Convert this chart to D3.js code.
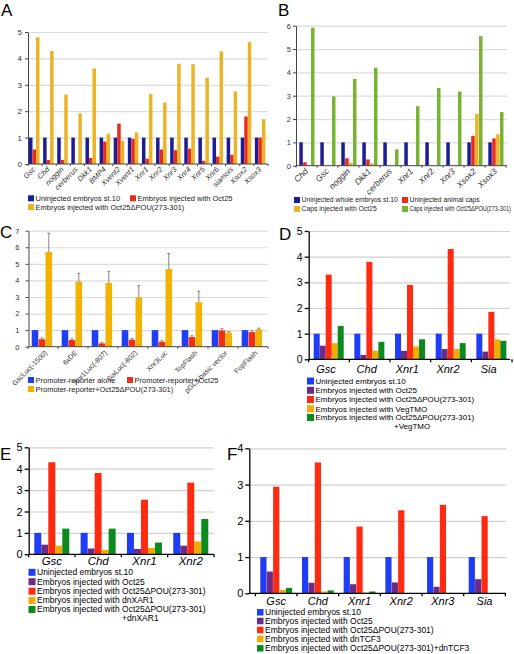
<!DOCTYPE html>
<html><head><meta charset="utf-8">
<script src="https://cdn.jsdelivr.net/npm/d3@7"></script>
<style>body{margin:0;background:#fff} svg{display:block;font-family:"Liberation Sans",Arial,sans-serif}</style>
</head><body><svg id="c" width="514" height="654"></svg>
<script>
// ---------- DATA ----------
// Panel A
const catsA = ["Gsc","Chd","noggin","cerberus","Dkk1","BMP4","Xvent2","Xvent1","Xnr1","Xnr2","Xnr3","Xnr4","Xnr5","Xnr6","siamois","Xsox2","Xsox3"];
const a_uninj = [1,1,1,1,1,1,1,1,1,1,1,1,1,1,1,1,1];
const a_oct25 = [0.55,0.15,0.15,0,0.23,0.85,1.53,0.95,0.2,0.55,0.52,0.58,0.12,0.28,0.35,1.8,1.0];
const a_dpou  = [4.8,4.28,2.63,1.92,3.62,1.15,0.88,1.2,2.65,2.33,3.8,3.78,3.27,4.27,2.75,4.62,1.7];
const legA = ["Uninjected embryos st.10","Embryos injected with Oct25","Embryos injected with Oct25\u0394POU(273-301)"];
// Panel B
const catsB = ["Chd","Gsc","noggin","Dkk1","cerberus","Xnr1","Xnr2","Xnr3","Xsox2","Xsox3"];
const b_whole = [1,1,1,1,1,1,1,1,1,1];
const b_caps  = [0.15,0,0.32,0.27,0,0,0,0,1.28,1.17];
const b_oct25 = [0,0,0.13,0.1,0,0,0,0.04,2.22,1.35];
const b_dpou  = [5.92,2.97,3.72,4.2,0.7,2.55,3.33,3.18,5.55,2.3];
const legB = ["Uninjected whole embryos st.10","Uninjected animal caps","Caps injected with Oct25","Caps injected with Oct25\u0394POU(273-301)"];
// Panel C
const catsC = ["GscLuc(-1500)","6xDE","Xnr1Luc(-807)","SiaLuc(-802)","Xnr3Luc","TopFlash","pGL3-basic vector","FopFlash"];
const c_alone = [1,1,1,1,1,1,1,1];
const c_oct25 = [0.45,0.4,0.2,0.42,0.3,0.58,0.98,0.88];
const c_dpou  = [5.72,3.93,3.85,2.97,4.68,2.68,0.85,1.05];
const c_oct25Err = [0.08,0.07,0.06,0.07,0.06,0.08,0.1,0.1];
const c_dpouErr  = [1.13,0.5,0.7,0.71,0.94,0.67,0.07,0.07];
const legC = ["Promoter-reporter alone","Promoter-reporter+Oct25","Promoter-reporter+Oct25\u0394POU(273-301)"];
// Panel D
const catsD = ["Gsc","Chd","Xnr1","Xnr2","Sia"];
const d_uninj = [1,1,1,1,1];
const d_oct25 = [0.53,0.17,0.33,0.4,0.3];
const d_dpou  = [3.3,3.8,2.9,4.3,1.85];
const d_veg   = [0.63,0.33,0.5,0.4,0.78];
const d_dpouVeg = [1.3,0.68,0.78,0.63,0.72];
const legD = ["Uninjected embryos st.10","Embryos injected with Oct25","Embryos injected with Oct25\u0394POU(273-301)","Embryos injected with VegTMO","Embryos injected with Oct25\u0394POU(273-301)"];
const legDcont = "+VegTMO";
// Panel E
const catsE = ["Gsc","Chd","Xnr1","Xnr2"];
const e_uninj = [1,1,1,1];
const e_oct25 = [0.45,0.27,0.25,0.4];
const e_dpou  = [4.3,3.8,2.55,3.35];
const e_dnxar = [0.4,0.2,0.3,0.6];
const e_dpouX = [1.2,1.2,0.55,1.65];
const legE = ["Uninjected embryos st.10","Embryos injected with Oct25","Embryos injected with Oct25\u0394POU(273-301)","Embryos injected with dnXAR1","Embryos injected with Oct25\u0394POU(273-301)"];
const legEcont = "+dnXAR1";
// Panel F
const catsF = ["Gsc","Chd","Xnr1","Xnr2","Xnr3","Sia"];
const f_uninj = [1,1,1,1,1,1];
const f_oct25 = [0.6,0.29,0.25,0.3,0.18,0.39];
const f_dpou  = [2.94,3.61,1.84,2.29,2.44,2.13];
const f_dntcf = [0.09,0.05,0.02,0,0,0];
const f_dpouT = [0.15,0.08,0.05,0,0,0];
const legF = ["Uninjected embryos st.10","Embryos injected with Oct25","Embryos injected with Oct25\u0394POU(273-301)","Embryos injected with dnTCF3","Embryos injected with Oct25\u0394POU(273-301)+dnTCF3"];

// ---------- DRAW ----------
const svg = d3.select("#c");
const FONT = '"Liberation Sans",Arial,sans-serif';

function drawPanel(o){
  const g = svg.append("g");
  const y = d3.scaleLinear().domain([0,o.yMax]).range([o.y0,o.yTop]);
  const x = d3.scaleBand().domain(o.cats).range([o.bx0,o.bx1]);
  const ticks = d3.range(0,o.yMax+1);
  g.append("g").attr("transform",`translate(${o.ax},0)`)
    .call(d3.axisLeft(y).tickValues(ticks.slice(1)).tickSize(-(o.gx1-o.ax)).tickFormat(""))
    .call(s=>{s.select(".domain").remove();s.selectAll("line").attr("stroke",o.grid).attr("stroke-width",1.2);});
  o.series.forEach((vals,i)=>{
    g.append("g").selectAll("rect").data(vals).join("rect")
      .attr("x",(d,j)=>x(o.cats[j])+o.off+i*o.step)
      .attr("y",d=>y(d)).attr("width",o.barW).attr("height",d=>o.y0-y(d))
      .attr("fill",o.colors[i]);
  });
  if(o.errors){
    o.errors.forEach((errs,i)=>{
      if(!errs) return;
      const vals=o.series[i];
      const eg=g.append("g").attr("stroke","#777").attr("stroke-width",0.9);
      errs.forEach((e,j)=>{
        const cx=x(o.cats[j])+o.off+i*o.step+o.barW/2;
        eg.append("line").attr("x1",cx).attr("x2",cx).attr("y1",y(vals[j])).attr("y2",y(vals[j]+e));
        eg.append("line").attr("x1",cx-1.5).attr("x2",cx+1.5).attr("y1",y(vals[j]+e)).attr("y2",y(vals[j]+e));
      });
    });
  }
  const ya=g.append("g").attr("transform",`translate(${o.ax},0)`)
    .call(d3.axisLeft(y).tickValues(ticks).tickFormat(d3.format("d")).tickSize(o.tickLen).tickPadding(o.pad).tickSizeOuter(0));
  ya.select(".domain").attr("stroke",o.axisColor).attr("stroke-width",o.axisW);
  ya.selectAll(".tick line").attr("stroke",o.axisColor).attr("stroke-width",o.axisW);
  ya.selectAll("text").attr("font-size",o.yFont).attr("fill",o.textColor).attr("font-family",FONT);
  g.append("line").attr("x1",o.ax).attr("x2",o.gx1).attr("y1",o.y0).attr("y2",o.y0)
    .attr("stroke",o.axisColor).attr("stroke-width",o.axisW);
  if(o.sep){
    const bounds=o.cats.map(c=>x(c)).concat([o.bx1]);
    g.append("g").selectAll("line").data(bounds).join("line")
      .attr("x1",d=>d).attr("x2",d=>d).attr("y1",o.y0).attr("y2",o.y0+o.sep)
      .attr("stroke",o.axisColor).attr("stroke-width",o.axisW);
  }
  if(o.rot){
    g.append("g").selectAll("text").data(o.cats).join("text")
      .attr("transform",d=>`translate(${x(d)+x.bandwidth()/2+o.lx},${o.y0+o.ly}) rotate(-45)`)
      .attr("text-anchor","end").attr("dy","0.35em")
      .attr("font-size",o.xFont).attr("font-style",o.italic?"italic":"normal")
      .attr("fill",o.textColor).text(d=>d);
  } else {
    g.append("g").selectAll("text").data(o.cats).join("text")
      .attr("x",d=>x(d)+x.bandwidth()/2+o.lx).attr("y",o.y0+o.ly)
      .attr("text-anchor","middle")
      .attr("font-size",o.xFont).attr("font-style",o.italic?"italic":"normal")
      .attr("fill","#000").text(d=>d);
  }
  return g;
}

function legend(items,colors,pos,size,font,fill,maxRight){
  const g=svg.append("g");
  items.forEach((t,i)=>{
    const p=pos[i];
    g.append("rect").attr("x",p[0]).attr("y",p[1]-size/2).attr("width",size).attr("height",size).attr("fill",colors[i]);
    const x0=p[0]+size+1.5;
    const tx=g.append("text").attr("x",x0).attr("y",p[1]).attr("dy","0.35em")
      .attr("font-size",font).attr("fill",fill).text(t);
    if(maxRight){
      const avail=maxRight-x0;
      const len=tx.node().getComputedTextLength();
      if(len>avail) tx.attr("transform",`translate(${x0},0) scale(${avail/len},1) translate(${-x0},0)`);
    }
  });
  return g;
}

const navy="#1c1c98", redA="#ea2a1a", yelA="#ebb427", grnB="#78b432";
const blu="#1e3df5", pur="#6c2b84", red="#ff2b10", yel="#f5aa00", grn="#0c8a1e";
const cBlu="#1f3ff2", cRed="#f42c12", cYel="#f2b200";

// A
drawPanel({cats:catsA,series:[a_uninj,a_oct25,a_dpou],colors:[navy,redA,yelA],
  ax:28,bx0:28,bx1:268,gx1:268,y0:164,yTop:32,yMax:5,off:1,step:3.5,barW:3.5,
  grid:"#dcdcdc",axisColor:"#444",axisW:1,tickLen:3,pad:3,yFont:8,textColor:"#333",
  rot:true,italic:true,xFont:7.5,lx:-1,ly:4,sep:2});
legend(legA,[navy,redA,yelA],[[28,198.3],[130,198.3],[28,207]],6,7.5,"#222");

// B
drawPanel({cats:catsB,series:[b_whole,b_caps,b_oct25,b_dpou],colors:[navy,redA,yelA,grnB],
  ax:296,bx0:296,bx1:506,gx1:507,y0:165.7,yTop:25.7,yMax:6,off:3.3,step:3.9,barW:3.5,
  grid:"#dcdcdc",axisColor:"#444",axisW:1,tickLen:3,pad:2,yFont:7.5,textColor:"#333",
  rot:true,italic:true,xFont:8.5,lx:0,ly:4,sep:2});
legend(legB,[navy,redA,yelA,grnB],[[294,200],[402,200],[294,209],[402,209]],6,6.8,"#222",511);

// C
drawPanel({cats:catsC,series:[c_alone,c_oct25,c_dpou],colors:[cBlu,cRed,cYel],errors:[null,c_oct25Err,c_dpouErr],
  ax:28.5,bx0:28,bx1:268,gx1:268,y0:346.7,yTop:230.7,yMax:7,off:3.7,step:6.9,barW:6.6,
  grid:"#dcdcdc",axisColor:"#444",axisW:1,tickLen:3,pad:6,yFont:7.5,textColor:"#333",
  rot:true,italic:false,xFont:7,lx:3,ly:5,sep:2});
legend(legC,[cBlu,cRed,cYel],[[28,380],[127,380],[28,389]],6,7.5,"#222");

// D
drawPanel({cats:catsD,series:[d_uninj,d_oct25,d_dpou,d_veg,d_dpouVeg],colors:[blu,pur,red,yel,grn],
  ax:308.7,bx0:308.7,bx1:512,gx1:510,y0:359.3,yTop:231,yMax:5,off:5,step:6,barW:6,
  grid:"#d0d0d0",axisColor:"#000",axisW:1.3,tickLen:4,pad:2,yFont:10.5,textColor:"#000",
  rot:false,italic:true,xFont:11,lx:-3,ly:13.5,sep:3});
legend(legD,[blu,pur,red,yel,grn],[[307,381],[307,390.3],[307,399.5],[307,408.8],[307,417.5]],7,8,"#000");
svg.append("text").attr("x",394).attr("y",426).attr("dy","0.35em").attr("font-size",8).text(legDcont);

// E
drawPanel({cats:catsE,series:[e_uninj,e_oct25,e_dpou,e_dnxar,e_dpouX],colors:[blu,pur,red,yel,grn],
  ax:28.7,bx0:28.7,bx1:214,gx1:214,y0:554.3,yTop:447.3,yMax:5,off:5.6,step:7,barW:7,
  grid:"#d0d0d0",axisColor:"#000",axisW:1.3,tickLen:4,pad:2,yFont:11,textColor:"#000",
  rot:false,italic:true,xFont:11.5,lx:0,ly:11,sep:3});
legend(legE,[blu,pur,red,yel,grn],[[28.5,572.3],[28.5,581.7],[28.5,591.2],[28.5,600.5],[28.5,609.5]],7,8.5,"#000");
svg.append("text").attr("x",122).attr("y",618.5).attr("dy","0.35em").attr("font-size",8.5).text(legEcont);

// F
drawPanel({cats:catsF,series:[f_uninj,f_oct25,f_dpou,f_dntcf,f_dpouT],colors:[blu,pur,red,yel,grn],
  ax:249.3,bx0:255.3,bx1:505.4,gx1:506,y0:593.3,yTop:448.3,yMax:4,off:5,step:6.4,barW:6.2,
  grid:"#d0d0d0",axisColor:"#000",axisW:1.3,tickLen:4,pad:2,yFont:11,textColor:"#000",
  rot:false,italic:true,xFont:11,lx:0,ly:12,sep:3});
legend(legF,[blu,pur,red,yel,grn],[[257,612.3],[257,621],[257,630],[257,639],[257,648.3]],6.5,8.5,"#000");

// panel letters
const letters=[["A",1,16],["B",278,16],["C",0,238],["D",279,240],["E",0,460],["F",227,460]];
svg.append("g").selectAll("text").data(letters).join("text")
  .attr("x",d=>d[1]).attr("y",d=>d[2]).attr("font-size",17).text(d=>d[0]);
</script></body></html>
